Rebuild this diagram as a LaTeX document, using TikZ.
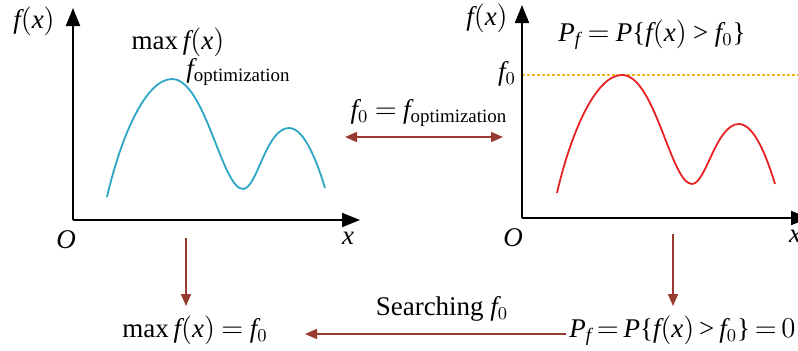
\documentclass[tikz,border=0pt]{standalone}
\usepackage{fontspec}
\setmainfont{Liberation Serif}
\usepackage{xcolor}
\usetikzlibrary{arrows.meta}
\definecolor{curveblue}{HTML}{2CA6C4}
\definecolor{curvered}{HTML}{E62222}
\definecolor{flowred}{HTML}{983A30}
\definecolor{levelorange}{HTML}{F2B71C}
% Times-like letters in math
\DeclareSymbolFont{tletters}{TU}{\rmdefault}{m}{it}
\DeclareMathSymbol{f}{\mathalpha}{tletters}{`f}
\DeclareMathSymbol{x}{\mathalpha}{tletters}{`x}
\DeclareMathSymbol{O}{\mathalpha}{tletters}{`O}
\DeclareMathSymbol{P}{\mathalpha}{tletters}{`P}
\DeclareMathSymbol{0}{\mathalpha}{operators}{`0}
\DeclareMathSymbol{(}{\mathopen}{operators}{`(}
\DeclareMathSymbol{)}{\mathclose}{operators}{`)}
\DeclareMathSymbol{=}{\mathrel}{operators}{`=}
\DeclareMathSymbol{>}{\mathrel}{operators}{`>}
\DeclareMathSymbol{\lbr}{\mathopen}{operators}{123}
\DeclareMathSymbol{\rbr}{\mathclose}{operators}{125}
\thickmuskip=4mu

\begin{document}
\begin{tikzpicture}[
  x=0.5pt, y=-0.5pt,
  font=\fontsize{13.5}{16}\selectfont,
  axis/.style={-{Triangle[length=9pt, width=7pt]}, line width=1pt},
  flow/.style={-{Triangle[length=6pt, width=5pt]}, line width=0.8pt, flowred},
  curve/.style={line width=0.9pt},
  level/.style={levelorange, line width=0.7pt, dash pattern=on 1.5pt off 1pt}
]
\useasboundingbox (0,0) rectangle (798,350);
% left plot
\coordinate (lo) at (73,220);
\coordinate (lytip) at (73,8);
\coordinate (lxtip) at (360,220);
\draw[axis] (lo) -- (lytip);
\draw[axis] (lo) -- (lxtip);
\node (lfx) at (34,21) {$f(x)$};
\node (lO) at (66,240) {$O$};
\node (lx) at (348,238) {$x$};
\node (lmax) at (178,42) {$\max f(x)$};
\node[anchor=base west, inner sep=0pt] (lopt) at (186,77) {$f_{\mathrm{optimization}}$};
\draw[curve, curveblue] (107,197) .. controls (120,140) and (145,79) .. (172,79)
  .. controls (205,79) and (222,189) .. (243,189)
  .. controls (257,189) and (266,128) .. (289,128)
  .. controls (305,128) and (318,165) .. (325,188);
% right plot
\coordinate (ro) at (522,218);
\coordinate (rytip) at (522,5);
\coordinate (rxtip) at (809,218);
\coordinate (rlevel) at (522,75);
\coordinate (rlevelend) at (798,75);
\draw[level] (rlevel) -- (rlevelend);
\draw[axis] (ro) -- (rytip);
\draw[axis] (ro) -- (rxtip);
\node (rfx) at (487,18) {$f(x)$};
\node (rO) at (513,238) {$O$};
\node (rx) at (795,236) {$x$};
\node (rf0) at (507,74) {$f_0$};
\node[anchor=base, inner sep=0pt] (rpf) at (652,41) {$P_f = P\lbr f(x) > f_0\rbr$};
\draw[curve, curvered] (557,193) .. controls (570,136) and (595,75) .. (622,75)
  .. controls (655,75) and (671,184) .. (692,184)
  .. controls (706,184) and (716,124) .. (739,124)
  .. controls (755,124) and (768,161) .. (775,184);
% link between plots
\node[anchor=base, inner sep=0pt] (link) at (429,118) {$f_0 = f_{\mathrm{optimization}}$};
\coordinate (linkl) at (345,137);
\coordinate (linkr) at (503,137);
\draw[flow, {Triangle[length=6pt, width=5pt]}-{Triangle[length=6pt, width=5pt]}] (linkl) -- (linkr);
% results row
\node[anchor=base, inner sep=0pt] (lres) at (195,337) {$\max f(x) = f_0$};
\node[anchor=base east, inner sep=0pt] (rres) at (796,337) {\thickmuskip=3mu $P_f = P\lbr f(x) > f_0\rbr = 0$};
\node[anchor=base, inner sep=0pt] (search) at (442,315) {Searching $f_0$};
\coordinate (ldown) at (186,238);
\coordinate (ldownend) at (186,306);
\coordinate (rdown) at (673,234);
\coordinate (rdownend) at (673,306);
\coordinate (sstart) at (566,334);
\coordinate (send) at (305,334);
\draw[flow] (ldown) -- (ldownend);
\draw[flow] (rdown) -- (rdownend);
\draw[flow] (sstart) -- (send);
\end{tikzpicture}
\end{document}
